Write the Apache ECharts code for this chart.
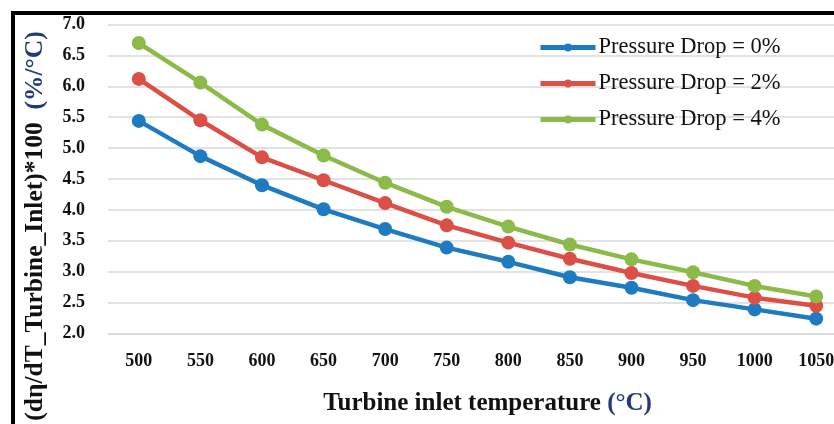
<!DOCTYPE html>
<html>
<head>
<meta charset="utf-8">
<script src="https://cdn.jsdelivr.net/npm/echarts@6/dist/echarts.min.js"></script>
<style>
html,body{margin:0;padding:0;background:#fff;}
#chart{width:834px;height:424px;}
</style>
</head>
<body>
<div id="chart"></div>
<script>
const categories = ['500','550','600','650','700','750','800','850','900','950','1000','1050'];
const drop0 = [5.44, 4.87, 4.40, 4.01, 3.69, 3.39, 3.16, 2.91, 2.74, 2.54, 2.39, 2.24];
const drop2 = [6.12, 5.45, 4.85, 4.48, 4.11, 3.75, 3.47, 3.21, 2.98, 2.77, 2.58, 2.45];
const drop4 = [6.70, 6.06, 5.38, 4.88, 4.44, 4.05, 3.73, 3.44, 3.20, 2.99, 2.77, 2.60];
const seriesNames = ['Pressure Drop = 0%', 'Pressure Drop = 2%', 'Pressure Drop = 4%'];
const colors = ['#1F7BC1', '#DC4F47', '#8BBA48'];

const chart = echarts.init(document.getElementById('chart'), null, {renderer: 'canvas'});
const serif = '"Liberation Serif", "DejaVu Serif", serif';
function mk(name, data, color) {
  return {
    name: name, type: 'line', data: data,
    symbol: 'circle', symbolSize: 14,
    itemStyle: {color: color},
    lineStyle: {color: color, width: 4.5},
    emphasis: {disabled: true},
    z: 3
  };
}
chart.setOption({
  animation: false,
  backgroundColor: '#fff',
  grid: {left: 108, top: 24.5, width: 739, height: 309, containLabel: false, outerBoundsMode: 'none'},
  legend: {
    left: 538, top: 36, orient: 'vertical', padding: 0,
    itemWidth: 55, itemHeight: 10, itemGap: 13,
    lineStyle: {width: 5},
    textStyle: {fontFamily: serif, fontSize: 22.5, color: '#111', padding: [0,0,0,-2]},
    data: seriesNames
  },
  xAxis: {
    type: 'category', data: categories, boundaryGap: true,
    axisLine: {show: true, lineStyle: {color: '#d9d9d9', width: 1.5}},
    axisTick: {show: false},
    axisLabel: {margin: 19, fontFamily: serif, fontWeight: 'bold', fontSize: 18, color: '#111', interval: 0},
    name: 'Turbine inlet temperature {c|(°C)}',
    nameLocation: 'middle', nameGap: 58,
    nameTextStyle: {fontFamily: serif, fontWeight: 'bold', fontSize: 25, color: '#111',
      padding: [0, 0, 0, 20],
      rich: {c: {fontFamily: serif, fontWeight: 'bold', fontSize: 25, color: '#233a78'}}}
  },
  yAxis: {
    type: 'value', min: 2, max: 7, interval: 0.5,
    axisLine: {show: false}, axisTick: {show: false},
    splitLine: {lineStyle: {color: '#d9d9d9', width: 1.5}},
    axisLabel: {margin: 23, fontFamily: serif, fontWeight: 'bold', fontSize: 18, color: '#111',
      formatter: v => v.toFixed(1)},
    name: '(dη/dT_Turbine_Inlet)*100  {c|(%/°C)}',
    nameLocation: 'middle', nameGap: 60, nameRotate: 90,
    nameTextStyle: {fontFamily: serif, fontWeight: 'bold', fontSize: 25.5, color: '#111',
      padding: [0, 0, 0, -94],
      rich: {c: {fontFamily: serif, fontWeight: 'bold', fontSize: 25.5, color: '#233a78'}}}
  },
  series: [mk(seriesNames[0], drop0, colors[0]), mk(seriesNames[1], drop2, colors[1]), mk(seriesNames[2], drop4, colors[2])],
  graphic: [
    {type: 'rect', shape: {x: 11, y: 11, width: 823, height: 4}, style: {fill: '#000'}, z: 100},
    {type: 'rect', shape: {x: 11, y: 11, width: 4, height: 413}, style: {fill: '#000'}, z: 100}
  ]
});
</script>
</body>
</html>
